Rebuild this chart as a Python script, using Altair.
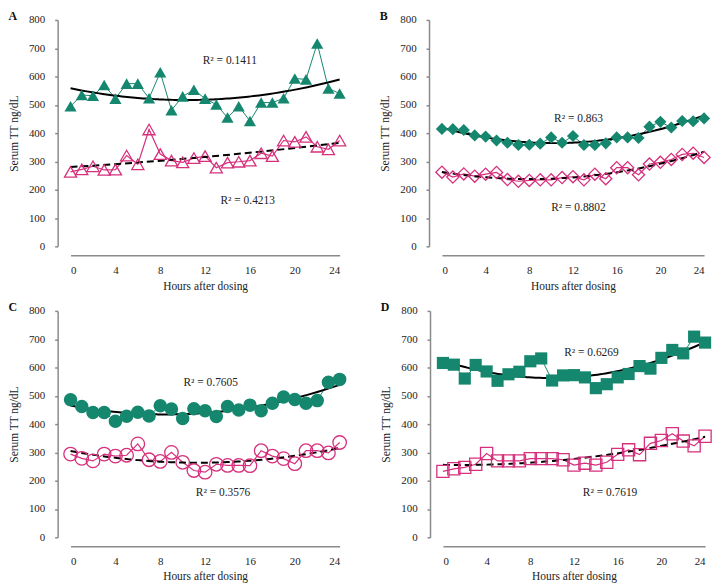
import altair as alt
import pandas as pd

hours = list(range(25))

# Panel A (triangles)
a_teal = [495, 535, 532, 570, 522, 575, 575, 523, 615, 481, 530, 553, 522, 501, 455,
          495, 443, 508, 508, 523, 593, 590, 717, 558, 540]
a_pink = [263, 272, 283, 270, 271, 321, 290, 413, 326, 303, 297, 312, 319, 278, 296,
          299, 303, 329, 319, 374, 369, 387, 352, 343, 374]
# Panel B (diamonds)
b_teal = [415, 414, 411, 392, 388, 374, 366, 358, 359, 363, 385, 366, 390, 358, 358,
          364, 385, 385, 383, 423, 440, 420, 443, 442, 452]
b_pink = [262, 245, 256, 248, 255, 261, 236, 230, 233, 235, 235, 243, 246, 235, 255,
          239, 278, 278, 253, 291, 297, 307, 325, 329, 314]
# Panel C (circles)
c_teal = [486, 462, 441, 441, 410, 428, 442, 429, 465, 453, 420, 454, 447, 427, 462,
          450, 467, 447, 474, 496, 487, 474, 483, 548, 558]
c_pink = [294, 279, 270, 294, 287, 290, 330, 274, 268, 300, 265, 236, 230, 258, 254,
          254, 253, 306, 287, 278, 260, 306, 306, 298, 335]
# Panel D (squares)
d_teal = [616, 610, 561, 609, 586, 553, 576, 585, 622, 632, 554, 572, 573, 565, 527,
          541, 565, 577, 605, 596, 634, 662, 650, 709, 688]
d_pink = [233, 242, 247, 258, 296, 270, 270, 270, 278, 278, 278, 274, 255, 262, 255,
          265, 293, 309, 292, 332, 342, 366, 340, 323, 357]

panel_letters = ["A", "B", "C", "D"]
panel_shapes = ["triangle-up", "diamond", "circle", "square"]
panel_sizes = [150, 150, 185, 150]
teal_series = [a_teal, b_teal, c_teal, d_teal]
pink_series = [a_pink, b_pink, c_pink, d_pink]

# R² annotations: text, hour position, value position
r2_teal_text = ["R\u00b2 = 0.1411", "R\u00b2 = 0.863", "R\u00b2 = 0.7605", "R\u00b2 = 0.6269"]
r2_teal_x = [14.2, 12.5, 12.5, 13.6]
r2_teal_y = [655, 450, 545, 650]
r2_pink_text = ["R\u00b2 = 0.4213", "R\u00b2 = 0.8802", "R\u00b2 = 0.3576", "R\u00b2 = 0.7619"]
r2_pink_x = [15.8, 12.5, 13.6, 15.3]
r2_pink_y = [159, 134, 158, 155]

TEAL = "#15876f"
PINK = "#d6307c"
FONT = "Liberation Serif"

X_AXIS = alt.Axis(values=[0, 4, 8, 12, 16, 20, 24], title="Hours after dosing",
                  offset=9, ticks=False, grid=False, labelPadding=9,
                  titlePadding=5, labelOverlap=False)
Y_AXIS = alt.Axis(values=list(range(0, 801, 100)), title="Serum TT ng/dL",
                  offset=13, ticks=True, tickSize=3, grid=False,
                  labelPadding=10, titlePadding=9, labelOverlap=False)
X_SCALE = alt.Scale(domain=[0, 24], nice=False)
Y_SCALE = alt.Scale(domain=[0, 800], nice=False)


def panel(i, width):
    df = pd.DataFrame({
        "hour": hours * 2,
        "value": teal_series[i] + pink_series[i],
        "series": ["teal"] * 25 + ["pink"] * 25,
    })
    lab = pd.DataFrame({
        "hour": [r2_teal_x[i], r2_pink_x[i]],
        "value": [r2_teal_y[i], r2_pink_y[i]],
        "label": [r2_teal_text[i], r2_pink_text[i]],
    })
    xenc = alt.X("hour:Q", scale=X_SCALE, axis=X_AXIS)
    yenc = alt.Y("value:Q", scale=Y_SCALE, axis=Y_AXIS)
    base = alt.Chart(df).encode(x=xenc, y=yenc)
    teal = base.transform_filter(alt.datum.series == "teal")
    pink = base.transform_filter(alt.datum.series == "pink")

    teal_line = teal.mark_line(color=TEAL, strokeWidth=1)
    pink_line = pink.mark_line(color=PINK, strokeWidth=1.2)
    teal_pts = teal.mark_point(shape=panel_shapes[i], filled=True, color=TEAL,
                               size=panel_sizes[i], opacity=1)
    pink_pts = pink.mark_point(shape=panel_shapes[i], filled=False, color=PINK,
                               size=panel_sizes[i], strokeWidth=1.3, opacity=1)
    teal_fit = teal.transform_regression("hour", "value", method="poly", order=2).mark_line(
        color="black", strokeWidth=2)
    pink_fit = pink.transform_regression("hour", "value", method="poly", order=2).mark_line(
        color="black", strokeWidth=2, strokeDash=[7, 4])
    texts = alt.Chart(lab).mark_text(font=FONT, fontSize=11.5, color="#222").encode(
        x=xenc, y=yenc, text="label:N")

    return alt.layer(teal_line, pink_line, teal_fit, pink_fit, teal_pts, pink_pts, texts).properties(
        width=width, height=228,
        title=alt.TitleParams(panel_letters[i], anchor="start", frame="bounds",
                              font=FONT, fontSize=12, fontWeight="bold", offset=-9,
                              color="#111"),
    )


chart = alt.vconcat(
    alt.hconcat(panel(0, 271), panel(1, 264), spacing=31),
    alt.hconcat(panel(2, 271), panel(3, 264), spacing=31),
    spacing=9,
).properties(padding=0, background="white").configure_view(stroke=None).configure_axis(
    domainColor="#8a8a8a", domainWidth=1.5, tickColor="#8a8a8a", tickWidth=1.5,
    labelFont=FONT, labelFontSize=11, labelColor="#222",
    titleFont=FONT, titleFontSize=11.5, titleFontWeight="normal", titleColor="#222",
)

chart.save("out.html", embed_options={"renderer": "svg", "actions": False})
